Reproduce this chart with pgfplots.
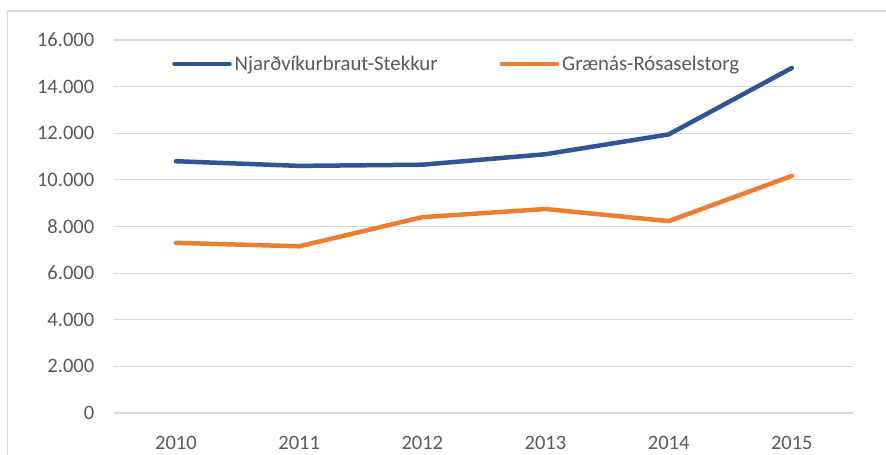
\documentclass[border=0pt]{standalone}
\usepackage{fontspec}
\setmainfont{Carlito}
\usepackage{pgfplots}
\pgfplotsset{compat=1.18}
\definecolor{bl}{HTML}{2F5597}
\definecolor{orr}{HTML}{ED7D31}
\definecolor{gridc}{HTML}{D9D9D9}
\definecolor{txt}{HTML}{595959}
\begin{document}
\begin{tikzpicture}
\path[use as bounding box] (0,0) rectangle (886bp,455bp);
\draw[gridc, line width=1.2bp] (7.3bp,0bp) -- (7.3bp,444bp) -- (886bp,444bp);
\begin{axis}[
  at={(114.4bp,42bp)}, anchor=south west,
  scale only axis, width=739bp, height=373bp,
  xmin=-0.5, xmax=5.5, ymin=0, ymax=16000,
  xtick={0,1,2,3,4,5},
  xticklabels={2010,2011,2012,2013,2014,2015},
  ytick={0,2000,4000,6000,8000,10000,12000,14000,16000},
  scaled y ticks=false,
  /pgf/number format/assume math mode=true,
  /pgf/number format/1000 sep={.},
  axis line style={draw=none},
  tick style={draw=none},
  ymajorgrids,
  major grid style={gridc, line width=1.2bp},
  font=\fontsize{20.5bp}{24bp}\selectfont,
  tick label style={text=txt},
  yticklabel style={inner sep=0pt, anchor=east, xshift=-20bp},
  xticklabel style={inner sep=0pt, anchor=north, yshift=-23bp},
  legend columns=2,
  legend style={at={(0.078,0.9357)}, anchor=west, draw=none, fill=none, inner sep=0pt,
    nodes={inner sep=0pt, text=txt, font=\fontsize{20.8bp}{24bp}\selectfont},
    /tikz/every even column/.append style={column sep=62bp},
    /tikz/every odd column/.append style={column sep=3bp}},
  legend image code/.code={\draw[#1, line width=4.5bp, line cap=round] (0bp,0bp) -- (55bp,0bp);},
]
\addplot[bl, line width=4.5bp, line cap=round, line join=round] coordinates {(0,10800) (1,10600) (2,10650) (3,11100) (4,11950) (5,14800)};
\addlegendentry{Njarðvíkurbraut-Stekkur}
\addplot[orr, line width=4.5bp, line cap=round, line join=round] coordinates {(0,7300) (1,7150) (2,8400) (3,8750) (4,8230) (5,10170)};
\addlegendentry{Grænás-Rósaselstorg}
\end{axis}
\end{tikzpicture}
\end{document}
